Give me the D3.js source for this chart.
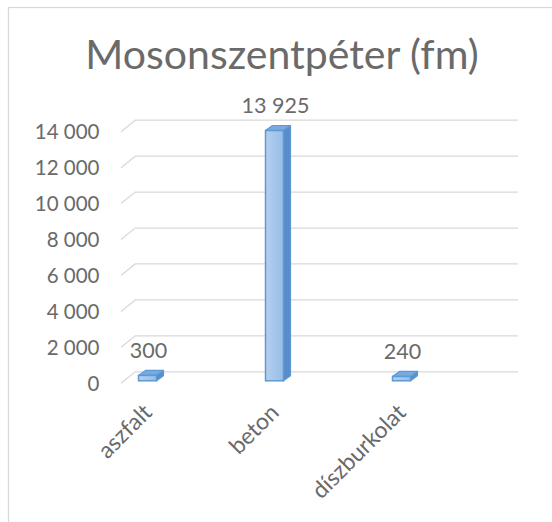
<!DOCTYPE html>
<html lang="hu">
<head>
<meta charset="utf-8">
<title>Mosonszentpéter (fm)</title>
<script src="https://d3js.org/d3.v7.min.js"></script>
<style>
  body { margin: 0; background: #fff; }
  svg text { font-family: Lato, "Open Sans", sans-serif; fill: #6a6a6a; }
  .grid { fill: none; stroke: #d9d9d9; stroke-width: 1.3; }
</style>
</head>
<body>
<script>
// data
var categories = ["aszfalt", "beton", "díszburkolat"];
var values = [300, 13925, 240];
var yTicks = [0, 2000, 4000, 6000, 8000, 10000, 12000, 14000];
var chartTitle = "Mosonszentpéter (fm)";

var width = 552, height = 522;
// 3d floor depth (front -> back wall)
var DX = 14.3, DY = -11.5;
var frontLeft = 121, backRight = 518;
var barDepth = 0.22;      // where the bar front sits inside the floor
var barW = 18, sideDX = 7, sideDY = -5;

var fmt = function(v) {
  return d3.format(",")(v).replace(/,/g, " ");
};

var svg = d3.select("body").append("svg")
    .attr("width", width)
    .attr("height", height);

// chart area border (cropped on right and bottom)
svg.append("rect")
    .attr("x", 8.5).attr("y", 7.5)
    .attr("width", 600).attr("height", 600)
    .attr("fill", "#fff")
    .attr("stroke", "#d9d9d9")
    .attr("stroke-width", 1.3);

svg.append("text")
    .attr("x", 282)
    .attr("y", 68.5)
    .attr("text-anchor", "middle")
    .style("font-size", "41px")
    .text(chartTitle);

var y = d3.scaleLinear()
    .domain([0, 14000])
    .range([383.3, 131.7]);

var x = d3.scalePoint()
    .domain(categories)
    .range([147.5, 401.5]);

// gridlines: short diagonal on the side wall, then along the back wall
svg.append("g").selectAll("path")
    .data(yTicks)
  .enter().append("path")
    .attr("class", "grid")
    .attr("d", function(t) {
      var y0 = y(t);
      return "M" + frontLeft + "," + y0 +
             "L" + (frontLeft + DX) + "," + (y0 + DY) +
             "L" + backRight + "," + (y0 + DY);
    });

// y axis labels
svg.append("g").selectAll("text")
    .data(yTicks)
  .enter().append("text")
    .attr("x", 99.5)
    .attr("y", function(t) { return y(t); })
    .attr("dy", "0.36em")
    .attr("text-anchor", "end")
    .style("font-size", "20.5px")
    .text(fmt);

// bars
var defs = svg.append("defs");
var grad = defs.append("linearGradient")
    .attr("id", "front")
    .attr("x1", 0).attr("x2", 1).attr("y1", 0).attr("y2", 0);
grad.append("stop").attr("offset", "0%").attr("stop-color", "#b4d0ef");
grad.append("stop").attr("offset", "100%").attr("stop-color", "#97bde6");

var shift = barDepth * DY;
var bars = svg.append("g").selectAll("g")
    .data(values)
  .enter().append("g");

bars.each(function(v, i) {
  var g = d3.select(this);
  var x0 = x(categories[i]) - barW / 2, x1 = x0 + barW;
  var yb = y(0) + shift, yt = y(v) + shift;
  // side
  g.append("path")
      .attr("d", "M" + x1 + "," + yb + "L" + x1 + "," + yt +
                 "L" + (x1 + sideDX) + "," + (yt + sideDY) +
                 "L" + (x1 + sideDX) + "," + (yb + sideDY) + "Z")
      .attr("fill", "#5a8ccb")
      .attr("stroke", "#5b9bd5")
      .attr("stroke-width", 1.2)
      .attr("stroke-linejoin", "round");
  // top
  g.append("path")
      .attr("d", "M" + x0 + "," + yt + "L" + x1 + "," + yt +
                 "L" + (x1 + sideDX) + "," + (yt + sideDY) +
                 "L" + (x0 + sideDX) + "," + (yt + sideDY) + "Z")
      .attr("fill", "#7aa9df")
      .attr("stroke", "#5b9bd5")
      .attr("stroke-width", 1.2)
      .attr("stroke-linejoin", "round");
  // front
  g.append("rect")
      .attr("x", x0).attr("y", yt)
      .attr("width", barW).attr("height", yb - yt)
      .attr("fill", "url(#front)")
      .attr("stroke", "#5b9bd5")
      .attr("stroke-width", 1.5);
});

// data labels
svg.append("g").selectAll("text")
    .data(values)
  .enter().append("text")
    .attr("x", function(v, i) { return x(categories[i]) + 1; })
    .attr("y", function(v) { return y(v) + shift - 25; })
    .attr("dy", "0.36em")
    .attr("text-anchor", "middle")
    .style("font-size", "21.5px")
    .text(fmt);

// category labels, rotated
svg.append("g").selectAll("text")
    .data(categories)
  .enter().append("text")
    .attr("transform", function(c) {
      return "translate(" + x(c) + ",408) rotate(-45)";
    })
    .attr("dy", "0.36em")
    .attr("text-anchor", "end")
    .style("font-size", "23px")
    .text(function(c) { return c; });
</script>
</body>
</html>
